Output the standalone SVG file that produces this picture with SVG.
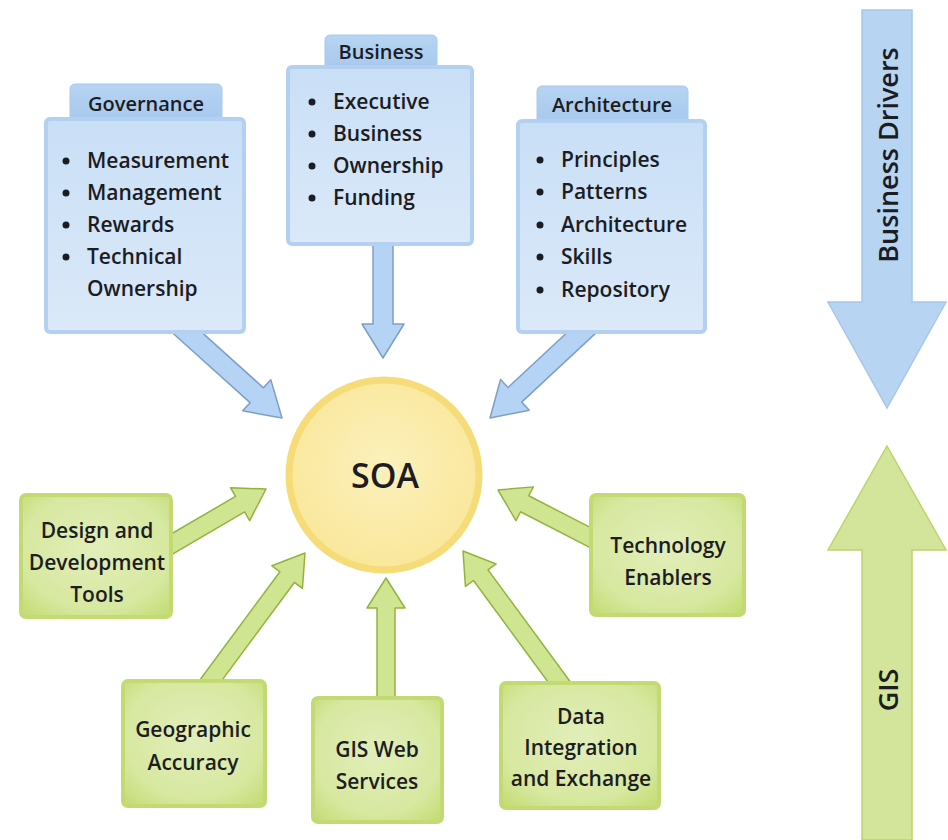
<svg xmlns="http://www.w3.org/2000/svg" width="948" height="840" viewBox="0 0 948 840">
<defs>
<linearGradient id="blueBox" x1="0" y1="0" x2="0" y2="1">
<stop offset="0" stop-color="#c9dff6"/>
<stop offset="1" stop-color="#dbe9f9"/>
</linearGradient>
<linearGradient id="blueTab" x1="0" y1="0" x2="0" y2="1">
<stop offset="0" stop-color="#b7d4f2"/>
<stop offset="1" stop-color="#a5c8ee"/>
</linearGradient>
<radialGradient id="greenBox" cx="0.5" cy="0.45" r="0.7">
<stop offset="0" stop-color="#e2eeba"/>
<stop offset="0.7" stop-color="#d7e8a0"/>
<stop offset="1" stop-color="#c6dc78"/>
</radialGradient>
<radialGradient id="soaFill" cx="0.5" cy="0.45" r="0.55">
<stop offset="0" stop-color="#fcf1bd"/>
<stop offset="1" stop-color="#f9e79a"/>
</radialGradient>
</defs>
<style>
.txt{font-family:"Open Sans","Lato","DejaVu Sans",sans-serif;font-weight:600;fill:#1c1c22;}
.list{font-size:21px;}
.bul{fill:#1c1c22;}
.tab{font-size:20px;}
.gtxt{font-size:21px;text-anchor:middle;}
.bbox{fill:url(#blueBox);stroke:#b3d0f0;stroke-width:4;}
.btab{fill:url(#blueTab);stroke:#a8c9ee;stroke-width:1;}
.gbox{fill:url(#greenBox);stroke:#c3da72;stroke-width:4;}
.barrow{fill:#b5d3f4;stroke:#7d9fc6;stroke-width:1.5;stroke-linejoin:round;}
.garrow{fill:#cfe592;stroke:#93b33e;stroke-width:1.5;stroke-linejoin:round;}
.bigblue{fill:#b7d4f3;stroke:#a6c6ea;stroke-width:1.5;}
.biggreen{fill:#d3e59a;stroke:#bcd46a;stroke-width:1.5;}
.side{font-size:27px;text-anchor:middle;}
</style>

<g id="connectors">
<path class="barrow" transform="translate(282,418) rotate(42)" d="M0,0 L-34,-21 L-34,-10 L-140,-10 L-140,10 L-34,10 L-34,21 Z"/>
<path class="barrow" transform="translate(383,358) rotate(90)" d="M0,0 L-34,-21 L-34,-10 L-115,-10 L-115,10 L-34,10 L-34,21 Z"/>
<path class="barrow" transform="translate(490,418) rotate(137)" d="M0,0 L-34,-21 L-34,-10 L-140,-10 L-140,10 L-34,10 L-34,21 Z"/>
<path class="garrow" transform="translate(266,489) rotate(-30.3)" d="M0,0 L-30,-19 L-30,-9 L-118,-9 L-118,9 L-30,9 L-30,19 Z"/>
<path class="garrow" transform="translate(305,553) rotate(-53.5)" d="M0,0 L-30,-19 L-30,-9 L-168,-9 L-168,9 L-30,9 L-30,19 Z"/>
<path class="garrow" transform="translate(386,578) rotate(-90)" d="M0,0 L-30,-19 L-30,-9 L-122,-9 L-122,9 L-30,9 L-30,19 Z"/>
<path class="garrow" transform="translate(463,551) rotate(-126.3)" d="M0,0 L-30,-19 L-30,-9 L-172,-9 L-172,9 L-30,9 L-30,19 Z"/>
<path class="garrow" transform="translate(498,490) rotate(-152.7)" d="M0,0 L-30,-19 L-30,-9 L-110,-9 L-110,9 L-30,9 L-30,19 Z"/>
</g>

<g id="soa">
<circle cx="384" cy="475" r="95" fill="url(#soaFill)" stroke="#f6dc78" stroke-width="7"/>
<text class="txt" x="385" y="488" font-size="34" text-anchor="middle">SOA</text>
</g>

<g id="governance">
<rect class="btab" x="70" y="84" width="152" height="40" rx="5"/>
<rect class="bbox" x="46" y="119" width="198" height="213" rx="4"/>
<text class="txt tab" x="146" y="111" text-anchor="middle">Governance</text>
<g class="bul">
<circle cx="66" cy="161" r="3.5"/><circle cx="66" cy="193" r="3.5"/><circle cx="66" cy="225" r="3.5"/><circle cx="66" cy="257" r="3.5"/>
</g>
<g class="txt list">
<text x="87" y="168">Measurement</text>
<text x="87" y="200">Management</text>
<text x="87" y="232">Rewards</text>
<text x="87" y="264">Technical</text>
<text x="87" y="296">Ownership</text>
</g>
</g>

<g id="business">
<rect class="btab" x="325" y="35" width="112" height="38" rx="5"/>
<rect class="bbox" x="288" y="67" width="184" height="177" rx="4"/>
<text class="txt tab" x="381" y="59" text-anchor="middle">Business</text>
<g class="bul">
<circle cx="312" cy="102" r="3.5"/><circle cx="312" cy="134" r="3.5"/><circle cx="312" cy="166" r="3.5"/><circle cx="312" cy="198" r="3.5"/>
</g>
<g class="txt list">
<text x="333" y="109">Executive</text>
<text x="333" y="141">Business</text>
<text x="333" y="173">Ownership</text>
<text x="333" y="205">Funding</text>
</g>
</g>

<g id="architecture">
<rect class="btab" x="537" y="86" width="151" height="40" rx="5"/>
<rect class="bbox" x="518" y="121" width="187" height="211" rx="4"/>
<text class="txt tab" x="612" y="112" text-anchor="middle">Architecture</text>
<g class="bul">
<circle cx="540" cy="160" r="3.5"/><circle cx="540" cy="192" r="3.5"/><circle cx="540" cy="225" r="3.5"/><circle cx="540" cy="257" r="3.5"/><circle cx="540" cy="290" r="3.5"/>
</g>
<g class="txt list">
<text x="561" y="167">Principles</text>
<text x="561" y="199">Patterns</text>
<text x="561" y="232">Architecture</text>
<text x="561" y="264">Skills</text>
<text x="561" y="297">Repository</text>
</g>
</g>

<g id="design-tools">
<rect class="gbox" x="21" y="495" width="150" height="122" rx="5"/>
<text class="txt gtxt" x="97" y="538">Design and</text>
<text class="txt gtxt" x="97" y="570">Development</text>
<text class="txt gtxt" x="97" y="602">Tools</text>
</g>

<g id="technology-enablers">
<rect class="gbox" x="591" y="495" width="153" height="120" rx="5"/>
<text class="txt gtxt" x="668" y="553">Technology</text>
<text class="txt gtxt" x="668" y="585">Enablers</text>
</g>

<g id="geographic-accuracy">
<rect class="gbox" x="123" y="681" width="142" height="125" rx="5"/>
<text class="txt gtxt" x="193" y="737">Geographic</text>
<text class="txt gtxt" x="193" y="770">Accuracy</text>
</g>

<g id="gis-web-services">
<rect class="gbox" x="313" y="698" width="129" height="124" rx="5"/>
<text class="txt gtxt" x="377" y="757">GIS Web</text>
<text class="txt gtxt" x="377" y="789">Services</text>
</g>

<g id="data-integration">
<rect class="gbox" x="501" y="683" width="158" height="125" rx="5"/>
<text class="txt gtxt" x="581" y="724">Data</text>
<text class="txt gtxt" x="581" y="755">Integration</text>
<text class="txt gtxt" x="581" y="786">and Exchange</text>
</g>

<g id="business-drivers">
<path class="bigblue" d="M862,10 L912,10 L912,302 L946,302 L887,408 L828,302 L862,302 Z"/>
<text class="txt side" transform="translate(898,155) rotate(-90)">Business Drivers</text>
</g>

<g id="gis">
<path class="biggreen" d="M887,446 L946,550 L912,550 L912,840 L862,840 L862,550 L828,550 Z"/>
<text class="txt side" transform="translate(898,690) rotate(-90)">GIS</text>
</g>
</svg>
